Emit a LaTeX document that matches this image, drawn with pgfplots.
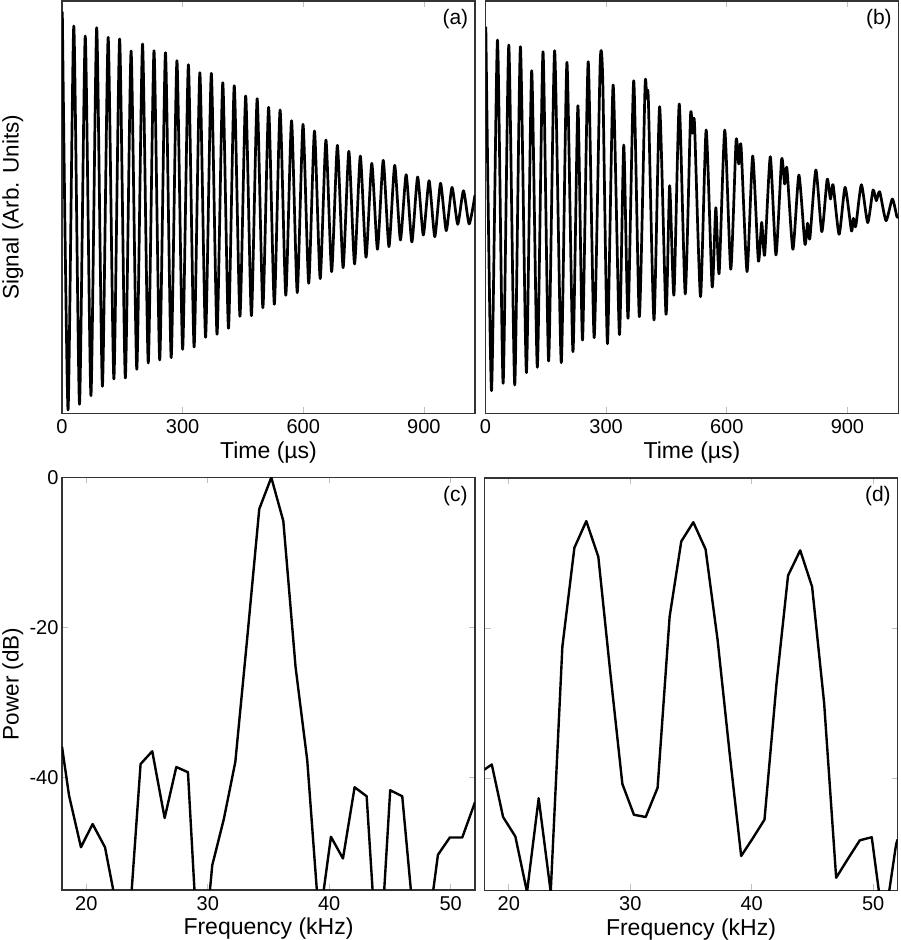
\documentclass[border=0pt]{standalone}
\usepackage{fontspec}
\setmainfont{Liberation Sans}
\usepackage{pgfplots}
\pgfplotsset{compat=1.18}

\pgfplotsset{
  panel/.style={
    scale only axis, width=413pt, height=412.5pt,
    axis line style={line width=1.3pt,color=black!80},
    tick style={color=black!25,line width=0.8pt},
    major tick length=6pt,
    xtick pos=both, tick align=inside,
    tick label style={font=\fontsize{20}{24}\selectfont},
    xticklabel style={yshift=-3pt},
    xlabel style={font=\fontsize{23}{27}\selectfont,at={(axis description cs:0.5,-0.094)},anchor=center},
    ylabel style={font=\fontsize{22.5}{27}\selectfont,at={(axis description cs:-0.119,0.5)},anchor=center},
    /pgf/number format/assume math mode=true,
    /pgf/number format/1000 sep={},
  },
  timepanel/.style={panel, xmin=0, xmax=1027, ymin=-201.5, ymax=211,
    xtick={0,300,600,900}, ytick=\empty, xlabel={Time (µs)}},
  freqpanel/.style={panel, xmin=18, xmax=52, ymin=-55, ymax=0,
    xtick={20,30,40,50}, xlabel={Frequency (kHz)}},
  sig/.style={black, line width=2.7pt, smooth, tension=0.36, no markers, line join=round},
  spec/.style={black, line width=2.4pt, no markers, line join=round},
}
\newcommand{\tag}[1]{\node[font=\fontsize{21}{24}\selectfont] at (rel axis cs:0.9525,0.956) {#1};}

\begin{document}
\begin{tikzpicture}[x=1pt,y=1pt]
\useasboundingbox (0,0) rectangle (900,940);

% (a) single tone
\begin{axis}[timepanel, at={(62pt,526.5pt)}, ylabel={Signal (Arb. Units)}]
\addplot[sig] coordinates {
(0.8,200.3) (15,-198) (29.3,186) (43.5,-192.3) (57.8,176) (72,-183.7) (86.3,184.3) (100.5,-174.3)
(114.8,174.7) (129,-167) (143.3,173) (157.5,-166) (171.8,161) (186,-157.3) (200.3,168) (214.5,-151)
(228.8,161.3) (243,-148) (257.3,159.3) (271.5,-145.7) (285.8,151.3) (300,-137.3) (314.3,147.3) (328.5,-135)
(342.8,139.3) (357,-125.3) (371.3,138.7) (385.5,-122.3) (399.8,129.3) (414,-116.3) (428.3,126.3) (442.5,-104.3)
(456.8,116) (471,-103.7) (485.3,113.3) (499.5,-95.7) (513.8,104.7) (528,-92.3) (542.3,102) (556.5,-83.3)
(570.8,91.3) (585,-80.7) (599.3,87.7) (613.5,-71.3) (627.8,81) (642,-66.7) (656.3,72) (670.5,-59.7)
(684.8,66.7) (699,-55.7) (713.3,60.7) (727.5,-52) (741.8,56) (756,-45.3) (770.3,48.7) (784.5,-37.3)
(798.8,51.7) (813,-34.7) (827.3,46.7) (841.5,-28) (855.8,37.3) (870,-30) (884.3,35) (898.5,-23)
(912.8,31.3) (927,-24.7) (941.3,28.7) (955.5,-18.7) (969.8,24.7) (984,-12.3) (998.3,21.3) (1012.5,-12)
(1027,17)};
\tag{(a)}
\end{axis}

% (b) three tones
\begin{axis}[timepanel, at={(485.5pt,526.5pt)}]
\addplot[sig] coordinates {
(0.8,185.3) (14.9,-178.7) (29.8,172) (43.8,-171.3) (57.9,167) (72.7,-173) (86.8,165.3) (101.7,-160.7)
(114.9,141.3) (128.9,-155.3) (143,160.3) (157,-149) (171.9,161.3) (188.4,-150.7) (202.5,149.7) (217.4,-139.7)
(229.8,106.3) (241.3,-128) (255.4,150.3) (270.2,-125.7) (285.1,148.7) (291.7,130.3) (303.3,-131.7) (317.4,127)
(333,-122.7) (343.8,67) (354.5,-106.3) (368.6,131.3) (382.6,-104.7) (396.7,125.3) (400.8,113.7) (405,112)
(419,-108) (433,105.3) (448.8,-102.3) (457.9,26.3) (468.6,-83) (481.8,108) (496.7,-82) (509.8,96.3)
(514.8,78.7) (519.7,88.7) (534.7,-84.7) (548.7,82) (563.6,-74.7) (572.7,4.3) (581,-61.3) (595,82)
(609.9,-57.3) (623.1,71.3) (629.7,48) (635.5,66) (650.4,-59.7) (664.4,56) (678.5,-49) (686.8,-10.3)
(694.2,-43) (708.2,55.3) (722.3,-43) (736.3,52.7) (743.8,28) (749.6,43.7) (764.4,-37.3) (779.3,37)
(794.2,-32) (800.8,-11.3) (806.6,-26.3) (821.5,42) (836.3,-19.7) (849.6,32.7) (857.8,13) (864.4,27)
(879.3,-22.3) (894.2,24.7) (909.9,-18.7) (914.9,-6.3) (920.6,-14.7) (934.7,27.3) (950.4,-10.7) (963.6,22)
(971.9,11.3) (980.2,20.3) (995.9,-8.7) (1011.6,13) (1023.1,-4.7) (1027,-5)};
\tag{(b)}
\end{axis}

% (c) spectrum of (a)
\begin{axis}[freqpanel, at={(62pt,50pt)}, ylabel={Power (dB)},
    ytick={-40,-20,0}, yticklabels={-40,-20,0}]
\addplot[spec] coordinates {
(18,-35.9) (18.58,-42.4) (19.56,-49.3) (20.52,-46.2) (21.54,-49.3) (22.53,-57.6) (23.49,-60.7) (24.47,-38.2)
(25.43,-36.5) (26.45,-45.4) (27.41,-38.6) (28.37,-39.3) (29.38,-69) (30.37,-51.7) (31.33,-45.5) (32.27,-37.9)
(33.25,-21.4) (34.24,-4.2) (35.23,0) (36.22,-5.8) (37.23,-25.3) (38.19,-37.7) (39.18,-59.4) (40.14,-47.9)
(41.13,-50.8) (42.09,-41.3) (43.08,-42.5) (44.06,-67.6) (45.02,-41.7) (46.01,-42.5) (47,-59.9) (47.96,-62.4)
(48.95,-50.3) (49.93,-48) (50.95,-48) (52,-43.3)};
\tag{(c)}
\end{axis}

% (d) spectrum of (b)
\begin{axis}[freqpanel, at={(484.5pt,49.5pt)}, ytick={-40,-20,0}, yticklabels={}]
\addplot[spec] coordinates {
(17.97,-38.9) (18.6,-38.2) (19.53,-45.2) (20.54,-47.8) (21.5,-55.2) (22.46,-42.7) (23.45,-55.2) (24.41,-22.5)
(25.4,-9.3) (26.38,-5.75) (27.37,-10.5) (28.36,-26) (29.35,-40.8) (30.3,-44.9) (31.27,-45.2) (32.25,-41.3)
(33.24,-18.5) (34.2,-8.45) (35.19,-5.9) (36.2,-9.5) (37.19,-21.6) (38.2,-37) (39.13,-50.4) (40.1,-48)
(41.05,-45.55) (42.04,-27.4) (42.99,-13) (43.99,-9.65) (44.97,-14.5) (45.96,-30) (46.95,-53.3) (47.91,-50.8)
(48.9,-48.3) (49.88,-47.9) (50.87,-60) (51.88,-48.9) (52,-48.2)};
\tag{(d)}
\end{axis}
\end{tikzpicture}
\end{document}
